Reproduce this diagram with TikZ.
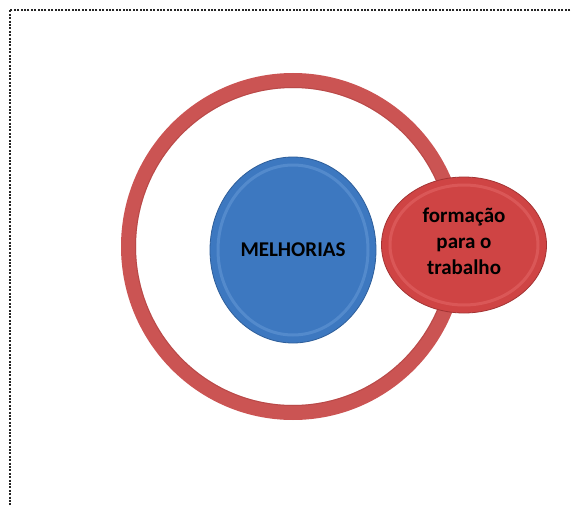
\documentclass[tikz,border=0pt]{standalone}
\usepackage{fontspec}
\setmainfont{Carlito}
\usetikzlibrary{shapes.geometric}
\begin{document}
\begin{tikzpicture}[x=1pt,y=-1pt,
  frameline/.style={line width=2pt, dash pattern=on 2pt off 1.4pt, black!85},
  ringband/.style={draw=ringred, line width=15pt},
  bluedisc/.style={ellipse, minimum width=166pt, minimum height=186pt, inner sep=0pt,
    fill=discblue, draw=discblueedge, line width=0.8pt},
  reddisc/.style={ellipse, minimum width=165pt, minimum height=136pt, inner sep=0pt,
    fill=discred, draw=discrededge, line width=0.8pt},
  disclabel/.style={font=\bfseries\fontsize{21}{26}\selectfont, text=black, align=center}
]
\definecolor{ringred}{HTML}{CB5453}
\definecolor{ringdark}{HTML}{A8403F}
\definecolor{discblue}{HTML}{3D78C0}
\definecolor{discblueedge}{HTML}{2E5E9A}
\definecolor{discbluelight}{HTML}{6FA0DC}
\definecolor{discred}{HTML}{CF4444}
\definecolor{discrededge}{HTML}{A33333}
\definecolor{discredlight}{HTML}{E87070}
\useasboundingbox (0,0) rectangle (574,506);
\fill[white] (0,0) rectangle (574,506);

% dotted page frame (top and left edges)
\coordinate (ftr) at (570,9.5);
\coordinate (ftl) at (10,9.5);
\coordinate (fbl) at (10,506);
\draw[frameline] (ftr) -- (ftl) -- (fbl);

% outer ring
\coordinate (rc) at (293,246.5);
\draw[ringband] (rc) ellipse [x radius=164.5, y radius=166];
\draw[ringdark, line width=1pt, opacity=0.5] (rc) ellipse [x radius=157.5, y radius=159];

% central disc
\node[bluedisc] (mel) at (293,250) {};
\draw[discbluelight, line width=3pt, opacity=0.45] (mel.center) ellipse [x radius=75, y radius=85];
\node[disclabel] (meltext) at (mel.center) {MELHORIAS};

% satellite disc
\node[reddisc] (form) at (464,245) {};
\draw[discredlight, line width=3pt, opacity=0.45] (form.center) ellipse [x radius=74, y radius=60];
\node[disclabel] (formtext) at ([yshift=4pt]form.center) {formação\\para o\\trabalho};
\end{tikzpicture}
\end{document}
